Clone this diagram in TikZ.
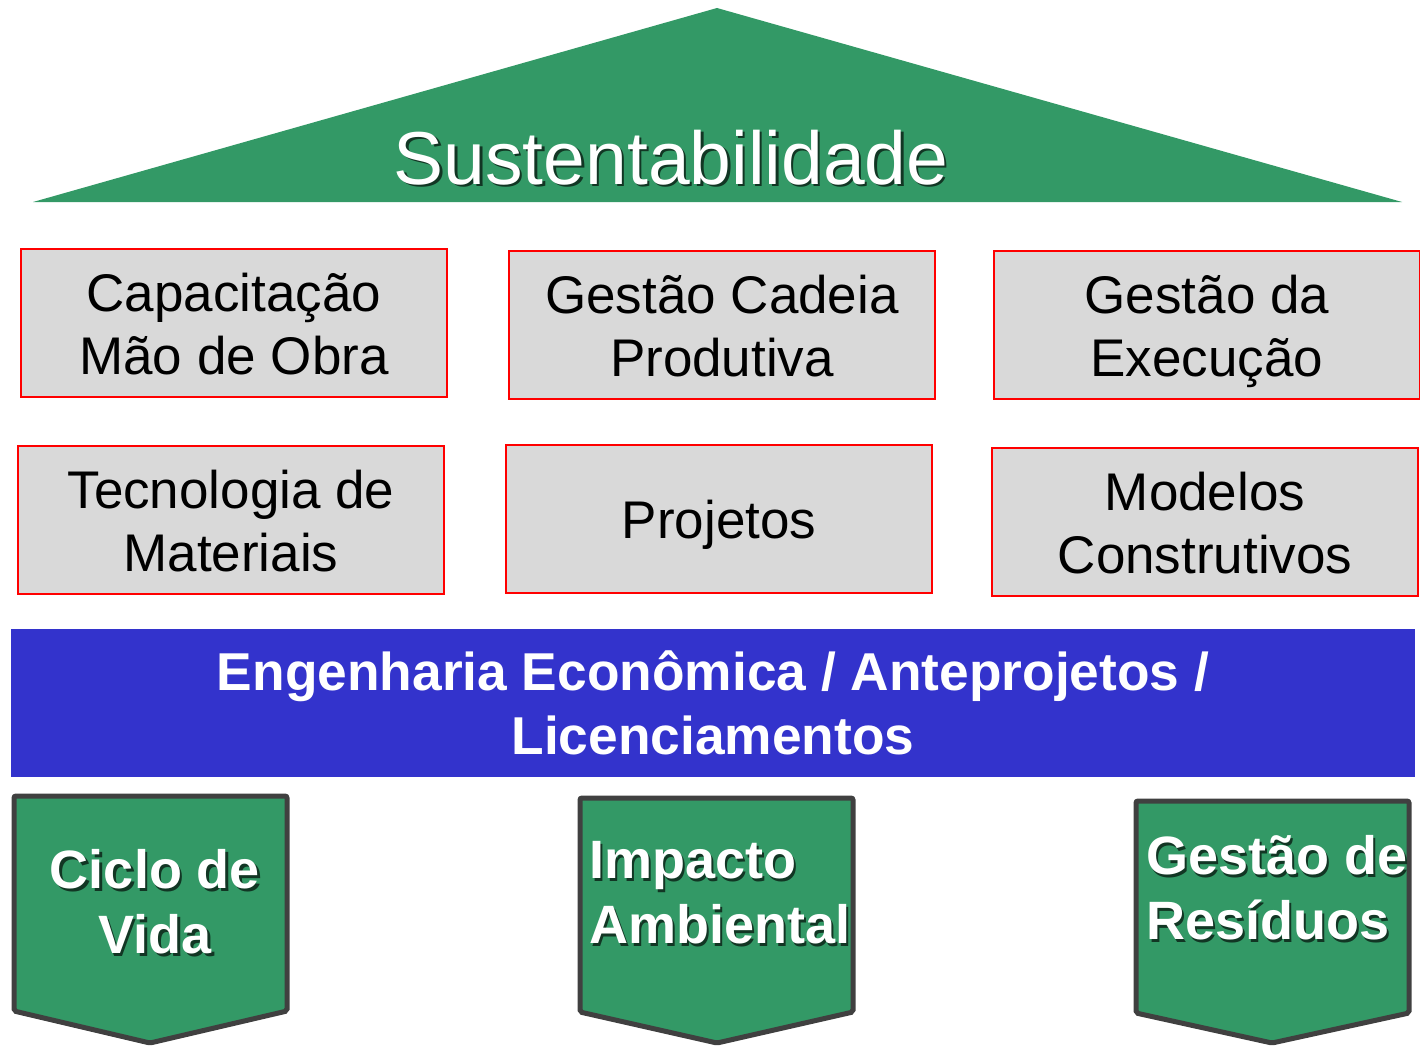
\documentclass[tikz,border=0pt]{standalone}
\usepackage{fontspec}
\setmainfont{Liberation Sans}
\definecolor{verde}{HTML}{339966}
\definecolor{cinza}{HTML}{D9D9D9}
\definecolor{azul}{HTML}{3333CC}
\definecolor{borda}{HTML}{404040}
% texto com sombra deslocada
\newcommand\sombra[1]{\leavevmode\rlap{\kern2.5pt\raisebox{-2.5pt}{\color{verde!35!black}#1}}#1}
\begin{document}
\begin{tikzpicture}[x=1pt,y=-1pt,
    pilar/.style={draw=red, line width=1.5pt, fill=cinza, minimum width=426pt, minimum height=148pt, inner sep=0pt, align=center, text height=115pt, text depth=12pt, font=\fontsize{53}{63}\selectfont},
    seta/.style={draw=borda, line width=5pt, fill=verde, rounded corners=2pt},
    rotulo/.style={text=white, inner sep=0pt, font=\bfseries\fontsize{54}{65}\selectfont}]
  \useasboundingbox (0,0) rectangle (1420,1046);

  % telhado
  \fill[verde] (33,202) -- (717,8) -- (1402,202) -- cycle;
  \node[text=white, anchor=base, font=\fontsize{75}{86}\selectfont] (sustentabilidade) at (671,184) {\sombra{Sustentabilidade}};

  % pilares
  \node[pilar] (capacitacao) at (234,323) {Capacitação\\Mão de Obra};
  \node[pilar] (cadeia) at (722,325) {Gestão Cadeia\\Produtiva};
  \node[pilar] (execucao) at (1207,325) {Gestão da\\Execução};
  \node[pilar] (tecnologia) at (231,520) {Tecnologia de\\Materiais};
  \node[pilar, text height=50pt] (projetos) at (719,519) {Projetos};
  \node[pilar] (modelos) at (1205,522) {Modelos\\Construtivos};

  % base
  \node[fill=azul, minimum width=1404pt, minimum height=148pt, inner sep=0pt, text=white, align=center, font=\bfseries\fontsize{53.3}{64}\selectfont] (engenharia) at (713,703) {Engenharia Econômica / Anteprojetos /\\Licenciamentos};

  % fundações
  \draw[seta] (14,796) -- (287,796) -- (287,1011) -- (150,1043) -- (14,1011) -- cycle;
  \node[rotulo, align=center] (ciclo) at (155,903) {\sombra{Ciclo de}\\\sombra{Vida}};
  \draw[seta] (580,798) -- (853,798) -- (853,1012) -- (717,1043) -- (580,1012) -- cycle;
  \node[rotulo, align=left, anchor=west] (impacto) at (589,894) {\sombra{Impacto}\\\sombra{Ambiental}};
  \draw[seta] (1136,801) -- (1409,801) -- (1409,1013) -- (1272,1043) -- (1136,1013) -- cycle;
  \node[rotulo, align=left, anchor=west] (residuos) at (1146,889) {\sombra{Gestão de}\\\sombra{Resíduos}};
\end{tikzpicture}
\end{document}
